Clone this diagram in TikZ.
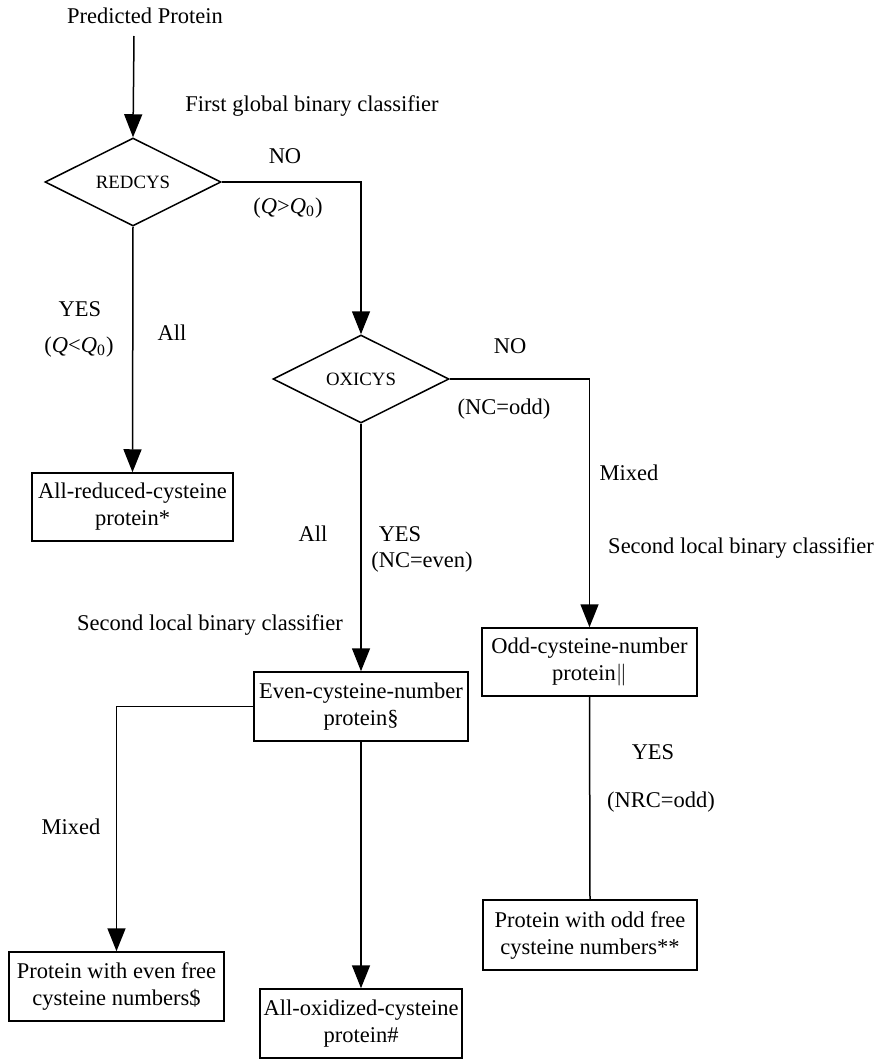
\documentclass[tikz,border=0pt]{standalone}
\usepackage{fontspec}
\setmainfont{Liberation Serif}
\usetikzlibrary{shapes.geometric,arrows.meta}
\begin{document}
\begin{tikzpicture}[x=0.5pt,y=-0.5pt,
  every node/.style={font=\fontsize{11.25pt}{13.5pt}\selectfont, inner sep=0pt},
  conn/.style={line width=0.75pt},
  arr/.style={conn,-{Triangle[length=11.5pt,width=9pt]}},
  box/.style 2 args={draw, line width=0.75pt, align=center, minimum width=#1, minimum height=#2},
  dec/.style={draw, line width=0.75pt, shape=diamond, aspect=2, minimum width=88pt, minimum height=44pt,
    font=\fontsize{9.4pt}{11pt}\selectfont}]
\useasboundingbox (0,0) rectangle (877,1060);

% main nodes
\node (start) at (145,16) {Predicted Protein};
\coordinate (s0) at (134,36);
\node[dec] (red) at (133,182) {REDCYS};
\node[dec] (ox) at (361,379) {OXICYS};
\node[box={100.5pt}{34pt}] (allred) at (132.5,507) {All-reduced-cysteine\\protein*};
\node[box={107pt}{34.5pt}] (even) at (361,706.5) {Even-cysteine-number\\protein\S};
\node[box={107.5pt}{34pt}] (odd) at (589.5,662) {Odd-cysteine-number\\protein$\|$};
\node[box={107.5pt}{34.5pt}] (evenfree) at (116.5,986.5) {Protein with even free\\cysteine numbers\$};
\node[box={101pt}{34.5pt}] (allox) at (361,1023.5) {All-oxidized-cysteine\\protein\#};
\node[box={107pt}{35pt}] (oddfree) at (590,935) {Protein with odd free\\cysteine numbers**};

% connectors
\draw[arr] (s0) -- (red.north);
\draw[arr] (red.east) -| (ox.north);
\draw[arr] (red.south) -- (allred.north);
\draw[arr] (ox.east) -| (odd.north);
\draw[arr] (ox.south) -- (even.north);
\draw[arr] (even.west) -| (evenfree.north);
\draw[arr] (even.south) -- (allox.north);
\draw[conn] (odd.south) -- (oddfree.north);

% labels
\node (l1) at (312,106) {First global binary classifier};
\node (l2) at (285,156) {NO};
\node (l3) at (288,208) {(\textit{Q}>\textit{Q}\textsubscript{0})};
\node (l4) at (80,309) {YES};
\node (l5) at (79,347) {(\textit{Q}<\textit{Q}\textsubscript{0})};
\node (l6) at (172,333) {All};
\node (l7) at (510,346) {NO};
\node (l8) at (504,409) {(NC=odd)};
\node (l9) at (629,473) {Mixed};
\node (l10) at (741,548) {Second local binary classifier};
\node (l11) at (313,534) {All};
\node (l12) at (400,534) {YES};
\node (l13) at (422,562) {(NC=even)};
\node (l14) at (210,625) {Second local binary classifier};
\node (l15) at (653,752) {YES};
\node (l16) at (661,802) {(NRC=odd)};
\node (l17) at (71,827) {Mixed};
\end{tikzpicture}
\end{document}
